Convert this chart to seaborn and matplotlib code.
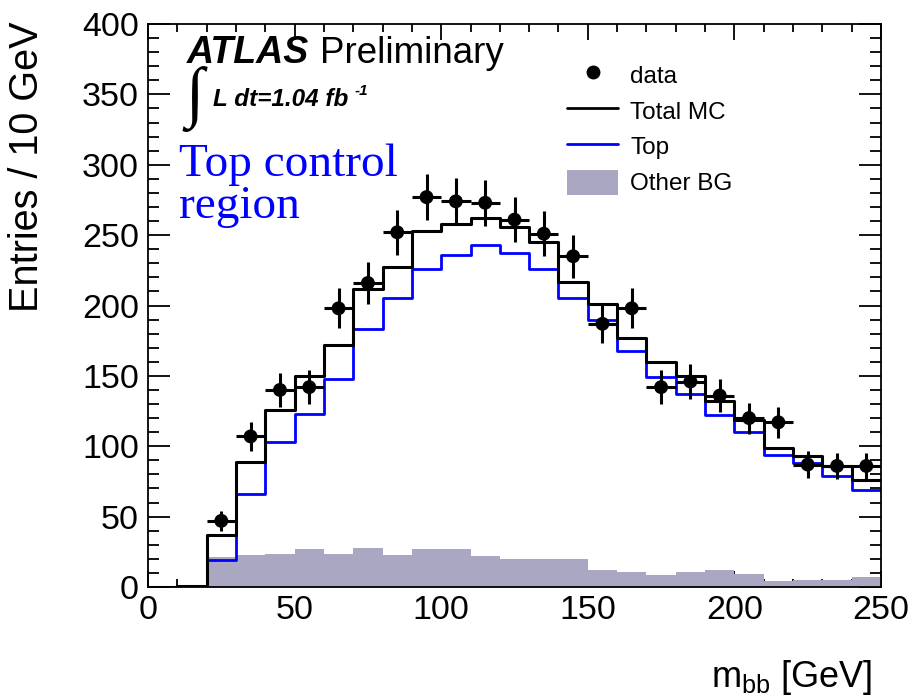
import numpy as np
import pandas as pd
import matplotlib
matplotlib.use("Agg")
import matplotlib.pyplot as plt
import seaborn as sns
from matplotlib.lines import Line2D
from matplotlib.patches import Patch
from matplotlib.ticker import MultipleLocator

# ---- data -------------------------------------------------------------
bin_edges = [0, 10, 20, 30, 40, 50, 60, 70, 80, 90, 100, 110, 120, 130,
             140, 150, 160, 170, 180, 190, 200, 210, 220, 230, 240, 250]
total_mc = [0, 1, 37, 89, 126, 150, 172, 212, 227, 253, 258, 262, 256, 245,
            217, 201, 177, 160, 150, 132, 119, 99, 93, 86, 76]
top_mc = [0, 0, 19, 66, 103, 123, 148, 183, 205, 226, 236, 243, 237, 226,
          205, 190, 168, 149, 137, 122, 110, 94, 88, 79, 69]
other_bg = [0, 0, 21, 23, 23.5, 27, 23.5, 28, 22.5, 27, 27, 22, 20, 20,
            20, 12, 11, 8.5, 11, 12, 9.5, 4, 5, 5, 7]
data_x = [25, 35, 45, 55, 65, 75, 85, 95, 105, 115, 125, 135, 145, 155,
          165, 175, 185, 195, 205, 215, 225, 235, 245]
data_y = [47, 107, 140, 142, 198, 216, 252, 277, 274, 273, 261, 251, 235,
          187, 198, 142, 146, 136, 120, 117, 87, 86, 86]
data_err = [6.9, 10.3, 11.8, 11.9, 14.1, 14.7, 15.9, 16.6, 16.6, 16.5, 16.2,
            15.8, 15.3, 13.7, 14.1, 11.9, 12.1, 11.7, 11.0, 10.8, 9.3, 9.3, 9.3]
bin_half = 5

# ---- style ------------------------------------------------------------
sns.set_theme(style="ticks")
plt.rcParams['font.family'] = ['Liberation Sans', 'DejaVu Sans']
plt.rcParams['axes.linewidth'] = 1.3
for k in ['text.color', 'axes.labelcolor', 'xtick.color', 'ytick.color',
          'axes.edgecolor']:
    plt.rcParams[k] = 'black'

gray = '#aaa7c3'
blue = '#0000ff'

W, H = 916, 698
fig = plt.figure(figsize=(W / 100, H / 100), dpi=100)
ax = fig.add_axes([148 / W, 1 - 587 / H, (881 - 148) / W, (587 - 24) / H])

edges = np.array(bin_edges, dtype=float)
centers = (edges[:-1] + edges[1:]) / 2
mc = pd.DataFrame({'center': centers, 'total': total_mc, 'top': top_mc,
                   'other': other_bg})

sns.histplot(data=mc, x='center', weights='other', bins=bin_edges,
             element='step', fill=True, color=gray, alpha=1, linewidth=0,
             ax=ax, zorder=1)
sns.histplot(data=mc, x='center', weights='total', bins=bin_edges,
             element='step', fill=False, color='black', linewidth=2.2,
             ax=ax, zorder=3)
sns.histplot(data=mc, x='center', weights='top', bins=bin_edges,
             element='step', fill=False, color=blue, linewidth=2.0,
             ax=ax, zorder=2)

ax.errorbar(data_x, data_y, xerr=bin_half, yerr=data_err, fmt='none',
            ecolor='black', elinewidth=2.2, capsize=0, zorder=4)
sns.scatterplot(x=data_x, y=data_y, color='black', s=100, marker='o',
                edgecolor='none', ax=ax, zorder=5)

ax.set_xlim(0, 250)
ax.set_ylim(0, 400)
ax.set_xlabel('')
ax.set_ylabel('')
ax.xaxis.set_major_locator(MultipleLocator(50))
ax.xaxis.set_minor_locator(MultipleLocator(10))
ax.yaxis.set_major_locator(MultipleLocator(50))
ax.yaxis.set_minor_locator(MultipleLocator(10))
ax.tick_params(which='both', direction='in', top=True, right=True,
               color='black', width=1.3, labelsize=24.5, labelcolor='black')
ax.tick_params(axis='y', which='major', length=16, pad=6.5)
ax.tick_params(axis='y', which='minor', length=8)
ax.tick_params(axis='x', which='major', length=11.5, pad=6)
ax.tick_params(axis='x', which='minor', length=6)

fig.text(27 / W, 1 - 22 / H, 'Entries / 10 GeV', rotation=90, ha='center',
         va='top', fontsize=28.5)
fig.text(872 / W, 1 - 687 / H, r'm$_{\mathregular{bb}}$ [GeV]', ha='right',
         va='baseline', fontsize=26)

# ATLAS label
fig.text(187 / W, 1 - 63 / H, 'ATLAS', fontsize=27, fontweight='bold',
         style='italic', va='baseline')
fig.text(320 / W, 1 - 63 / H, 'Preliminary', fontsize=26.5, va='baseline')
fig.text(185 / W, 1 - 99 / H, '\u222b', fontsize=48, va='center',
         family=['Liberation Serif', 'DejaVu Serif'])
fig.text(213 / W, 1 - 106 / H, 'L dt=1.04 fb', fontsize=17.5,
         fontweight='bold', style='italic', va='baseline')
fig.text(355 / W, 1 - 95 / H, '-1', fontsize=11, fontweight='bold',
         style='italic', va='baseline')
fig.text(179 / W, 1 - 143 / H, 'Top control\nregion', fontsize=34,
         color=blue, va='top', ha='left', linespacing=1.0,
         family=['Liberation Serif'])

handles = [
    Line2D([], [], color='black', marker='o', linestyle='none', markersize=9),
    Line2D([], [], color='black', linewidth=2),
    Line2D([], [], color=blue, linewidth=2),
    Patch(facecolor=gray, edgecolor='none'),
]
labels = ['data', 'Total MC', 'Top', 'Other BG']
fig.legend(handles, labels, loc='upper left',
           bbox_to_anchor=(567 / W, 1 - 62 / H), frameon=False,
           fontsize=17.5, handlelength=2.1, handletextpad=0.5,
           labelspacing=0.42, borderpad=0, borderaxespad=0,
           handleheight=1.2)

fig.savefig('out.png', dpi=100)
